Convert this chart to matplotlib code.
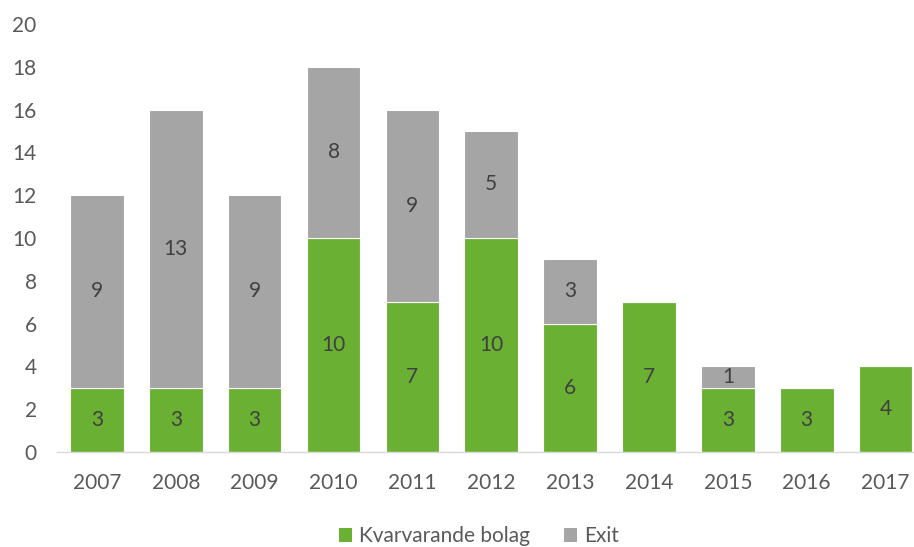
import matplotlib
matplotlib.use("Agg")
import matplotlib.pyplot as plt
from matplotlib.patches import Patch

years = ["2007", "2008", "2009", "2010", "2011", "2012", "2013", "2014", "2015", "2016", "2017"]
kvar = [3, 3, 3, 10, 7, 10, 6, 7, 3, 3, 4]
exit_ = [9, 13, 9, 8, 9, 5, 3, 0, 1, 0, 0]

green = "#6AB033"
gray = "#A5A5A5"
txt = "#595959"
lbl = "#404040"

plt.rcParams['font.family'] = ['Lato', 'DejaVu Sans']

fig = plt.figure(figsize=(9.14, 5.47), dpi=100)
ax = fig.add_axes([57.5/914, 1-452/547, (925-57.5)/914, (452-24)/547])

x = list(range(len(years)))
ax.bar(x, kvar, width=0.68, color=green, edgecolor="white", linewidth=0.8)
ax.bar(x, exit_, bottom=kvar, width=0.68, color=gray, edgecolor="white", linewidth=0.8)

for i in x:
    if kvar[i] > 0:
        ax.text(i, kvar[i]/2, str(kvar[i]), ha="center", va="center", fontsize=15, color=lbl)
    if exit_[i] > 0:
        ax.text(i, kvar[i] + exit_[i]/2, str(exit_[i]), ha="center", va="center", fontsize=15, color=lbl)

ax.set_xlim(-0.5, len(years)-0.5)
ax.set_ylim(0, 20)
ax.set_yticks(range(0, 21, 2))
ax.set_xticks(x)
ax.set_xticklabels(years)
for s in ["top", "right", "left"]:
    ax.spines[s].set_visible(False)
ax.spines["bottom"].set_color("#D9D9D9")
ax.spines["bottom"].set_linewidth(1)
ax.tick_params(axis="both", length=0, labelsize=15, colors=txt)
ax.tick_params(axis="y", pad=15)
ax.tick_params(axis="x", pad=15)

handles = [Patch(facecolor=green, label="Kvarvarande bolag"), Patch(facecolor=gray, label="Exit")]
fig.legend(handles=handles, loc="center", bbox_to_anchor=(479/914, 1-536/547), ncol=2,
           frameon=False, fontsize=15, labelcolor=txt, handlelength=0.65, handleheight=0.65,
           handletextpad=0.35, columnspacing=1.6)

fig.savefig("out.png", dpi=100)
